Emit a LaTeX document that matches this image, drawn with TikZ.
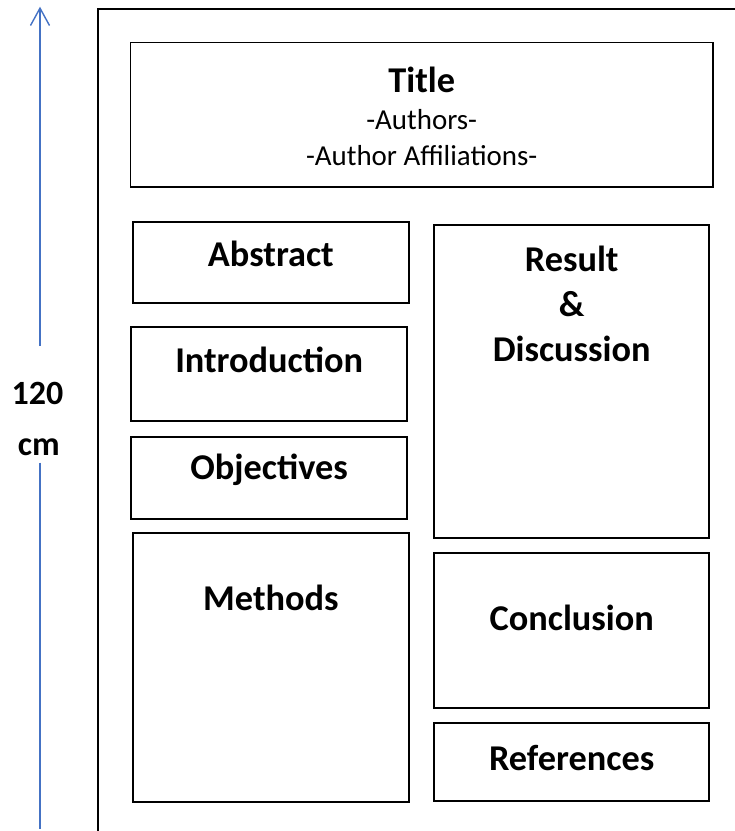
\documentclass[tikz,border=0pt]{standalone}
\usepackage{fontspec}
\setmainfont{Carlito}
\usetikzlibrary{arrows.meta}
\tikzset{>={Straight Barb[length=5.2mm,width=5.7mm]}}
\definecolor{myblue}{RGB}{68,114,196}
\tikzset{
  panel/.style={line width=1.6pt, draw=black},
  heading/.style={font=\fontsize{31}{38}\selectfont\bfseries, anchor=base},
  subline/.style={font=\fontsize{24.7}{30}\selectfont, anchor=base},
  sizetext/.style={font=\fontsize{29}{35}\selectfont\bfseries, anchor=base},
  dimline/.style={line width=1.2pt, myblue},
}
\begin{document}
\begin{tikzpicture}[x=0.03cm, y=-0.03cm]
    \useasboundingbox (0,0) rectangle (735,831);

    % height of the poster
    \coordinate (arrtop) at (40, 6.7);
    \coordinate (gaptop) at (40, 346);
    \coordinate (gapbot) at (40, 462.7);
    \coordinate (arrbot) at (40, 829.3);
    \draw[dimline, ->] (gaptop) -- (arrtop);
    \draw[dimline] (gapbot) -- (arrbot);
    \node[sizetext] (height) at (37.5, 404) {120};
    \node[sizetext] (unit) at (38.8, 455.5) {cm};

    % poster sheet
    \draw[panel] (98.3, 831) -- (98.3, 9.3) -- (735, 9.3);

    % title block
    \draw[panel] (130.5, 42.5) rectangle (713, 187);
    \node[heading] (title) at (421.7, 92.3) {Title};
    \node[subline] (authors) at (421.7, 129.3) {-Authors-};
    \node[subline] (affil) at (421.7, 165) {-Author Affiliations-};

    % left column
    \draw[panel] (132.7, 221.7) rectangle (409, 303.3);
    \node[heading] (abstract) at (270.9, 266.7) {Abstract};
    \draw[panel] (131, 326.7) rectangle (407.3, 421);
    \node[heading] (intro) at (269.2, 372.7) {Introduction};
    \draw[panel] (131, 436.7) rectangle (407.3, 519.3);
    \node[heading] (objectives) at (269.2, 479.3) {Objectives};
    \draw[panel] (132.7, 533.3) rectangle (409, 802.3);
    \node[heading] (methods) at (270.9, 610) {Methods};

    % right column
    \draw[panel] (434.3, 225) rectangle (709, 537.7);
    \node[heading] (result) at (571.7, 271) {Result};
    \node[heading] (amp) at (571.7, 316.7) {\&};
    \node[heading] (discussion) at (571.7, 361.7) {Discussion};
    \draw[panel] (434.3, 552.7) rectangle (709, 707.7);
    \node[heading] (conclusion) at (571.7, 630) {Conclusion};
    \draw[panel] (434.3, 723.3) rectangle (709, 801);
    \node[heading] (references) at (571.7, 770) {References};

\end{tikzpicture}
\end{document}
